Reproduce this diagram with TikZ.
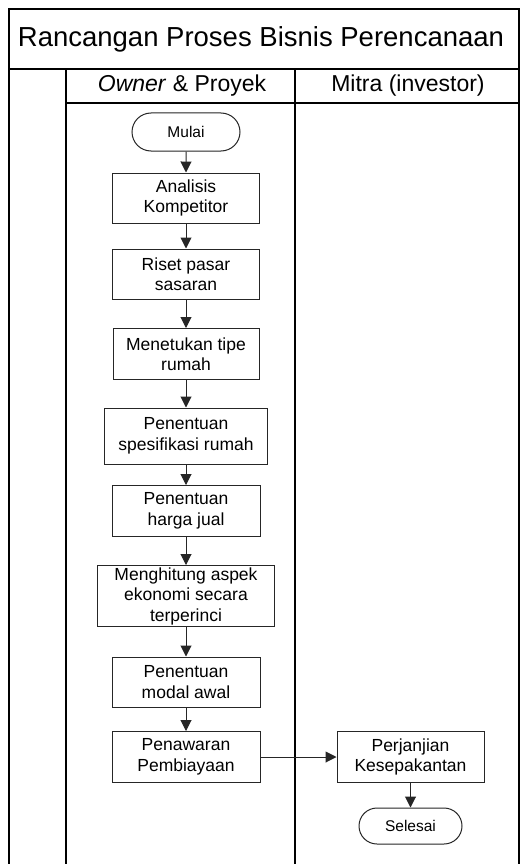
\documentclass[tikz,border=0pt]{standalone}
\usepackage{fontspec}
\setmainfont{Liberation Sans}
\usetikzlibrary{arrows.meta,shapes.misc}

\begin{document}
\begin{tikzpicture}[x=1pt,y=-1pt,
  frame/.style={line width=1.4pt, black},
  proc/.style={draw=black!85, line width=1pt, fill=white, align=center,
    font=\fontsize{17.5}{20.5}\selectfont, inner sep=0pt},
  term/.style={draw=black!85, line width=1pt, rounded rectangle, fill=white,
    font=\fontsize{15.5}{18}\selectfont, inner sep=0pt},
  flow/.style={line width=1pt, black!85, -{Triangle[length=11pt,width=11pt]}},
  hdr/.style={font=\fontsize{23}{26}\selectfont, inner sep=0pt}]

  \useasboundingbox (0,0) rectangle (520,864);

  % swimlane frame
  \draw[frame] (9,864) -- (9,9) -- (519,9) -- (519,864);
  \draw[frame] (9,69) -- (519,69);
  \draw[frame] (66,103) -- (519,103);
  \draw[frame] (66,69) -- (66,864);
  \draw[frame] (295,69) -- (295,864);

  % titles
  \node[font=\fontsize{27.5}{31}\selectfont, inner sep=0pt] (title) at (261,39)
    {Rancangan Proses Bisnis Perencanaan};
  \node[hdr] (laneA) at (182,86) {\textit{Owner} \& Proyek};
  \node[hdr] (laneB) at (408,86) {Mitra (investor)};

  % owner lane
  \node[term, minimum width=108pt, minimum height=38pt] (mulai) at (186,132) {Mulai};
  \node[proc, minimum width=147pt, minimum height=50pt] (s1) at (186,198) {Analisis\\Kompetitor};
  \node[proc, minimum width=147pt, minimum height=50pt] (s2) at (186,274) {Riset pasar\\sasaran};
  \node[proc, minimum width=146pt, minimum height=51pt] (s3) at (186,354) {Menetukan tipe\\rumah};
  \node[proc, minimum width=163pt, minimum height=56pt] (s4) at (186,436) {Penentuan\\spesifikasi rumah};
  \node[proc, minimum width=148pt, minimum height=51pt] (s5) at (186,511) {Penentuan\\harga jual};
  \node[proc, minimum width=177pt, minimum height=61pt] (s6) at (186,596) {Menghitung aspek\\ekonomi secara\\terperinci};
  \node[proc, minimum width=148pt, minimum height=50pt] (s7) at (186,682) {Penentuan\\modal awal};
  \node[proc, minimum width=148pt, minimum height=51pt] (s8) at (186,757) {Penawaran\\Pembiayaan};

  % investor lane
  \node[proc, minimum width=147pt, minimum height=51pt] (m1) at (410.5,757) {Perjanjian\\Kesepakantan};
  \node[term, minimum width=103pt, minimum height=36pt] (selesai) at (410.5,826) {Selesai};

  % flow
  \draw[flow] (mulai) -- (s1);
  \draw[flow] (s1) -- (s2);
  \draw[flow] (s2) -- (s3);
  \draw[flow] (s3) -- (s4);
  \draw[flow] (s4) -- (s5);
  \draw[flow] (s5) -- (s6);
  \draw[flow] (s6) -- (s7);
  \draw[flow] (s7) -- (s8);
  \draw[flow] (s8) -- (m1);
  \draw[flow] (m1) -- (selesai);
\end{tikzpicture}
\end{document}
